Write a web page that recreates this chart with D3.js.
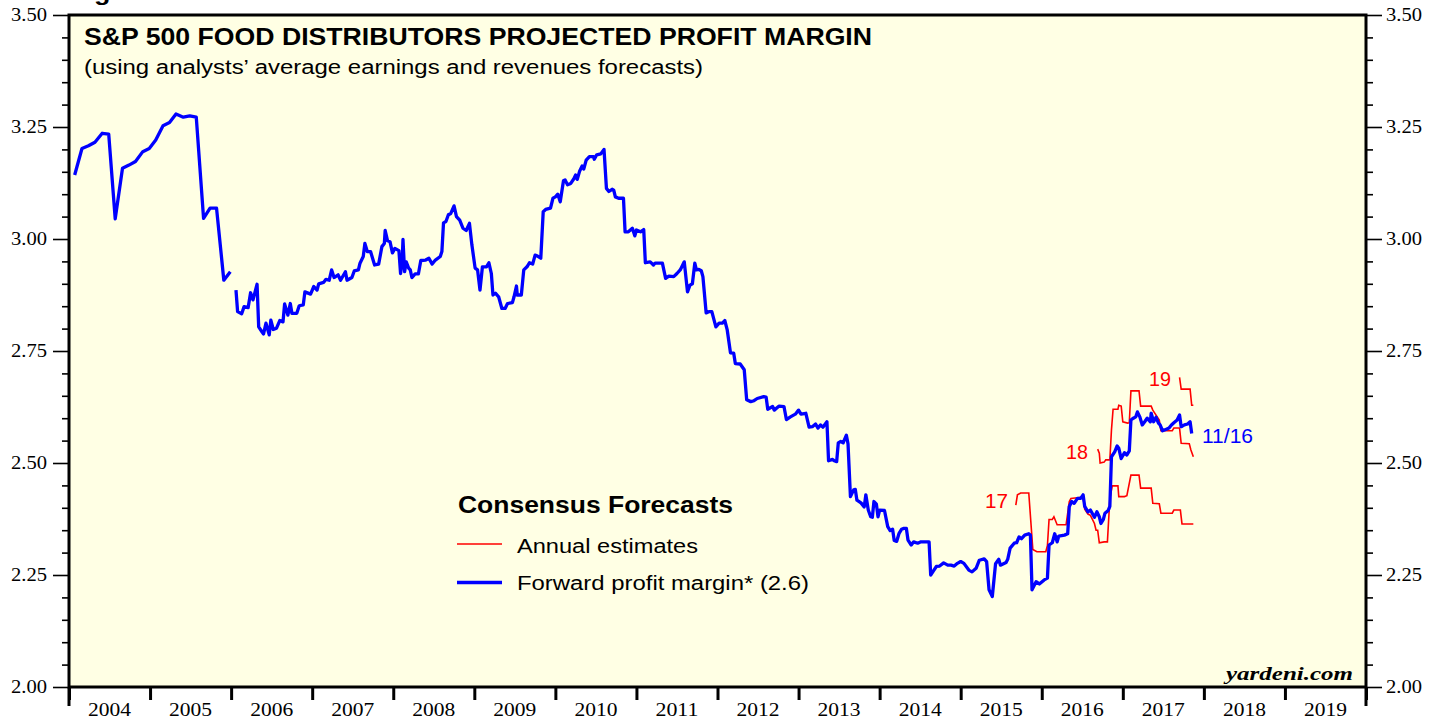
<!DOCTYPE html>
<html>
<head>
<meta charset="utf-8">
<script src="https://cdn.jsdelivr.net/npm/d3@7/dist/d3.min.js"></script>
<style>
  body { margin: 0; background: #fff; }
  svg { display: block; }
</style>
</head>
<body>
<svg id="chart" width="1446" height="719"></svg>
<script>
// tick values / labels
const yearLabels = ['2004', '2005', '2006', '2007', '2008', '2009', '2010', '2011', '2012', '2013', '2014', '2015', '2016', '2017', '2018', '2019']
const yMajor = [2.00, 2.25, 2.50, 2.75, 3.00, 3.25, 3.50]
const yMinor = [2.05, 2.10, 2.15, 2.20, 2.30, 2.35, 2.40, 2.45, 2.55, 2.60, 2.65, 2.70, 2.80, 2.85, 2.90, 2.95, 3.05, 3.10, 3.15, 3.20, 3.30, 3.35, 3.40, 3.45]

// forward profit margin, monthly 2004-2005 [decimal year, %]
const fwdMonthly = [
  [2004.07, 3.143], [2004.16, 3.202], [2004.24, 3.208], [2004.32, 3.216], [2004.41, 3.236], [2004.49, 3.234],
  [2004.57, 3.045], [2004.66, 3.158], [2004.74, 3.165], [2004.82, 3.173], [2004.91, 3.195], [2004.99, 3.202],
  [2005.07, 3.221], [2005.16, 3.253], [2005.24, 3.260], [2005.32, 3.279], [2005.41, 3.272], [2005.49, 3.275],
  [2005.57, 3.272], [2005.66, 3.046], [2005.74, 3.069], [2005.82, 3.069], [2005.91, 2.908], [2005.99, 2.927]
]

// forward profit margin, weekly 2006-2017
const fwdWeekly = [
  [2006.06, 2.886], [2006.08, 2.838], [2006.13, 2.833], [2006.16, 2.849], [2006.21, 2.847], [2006.24, 2.880],
  [2006.27, 2.864], [2006.32, 2.899], [2006.34, 2.804], [2006.38, 2.793], [2006.40, 2.788], [2006.43, 2.812],
  [2006.47, 2.786], [2006.49, 2.819], [2006.52, 2.798], [2006.56, 2.801], [2006.60, 2.818], [2006.64, 2.815],
  [2006.66, 2.855], [2006.70, 2.830], [2006.73, 2.856], [2006.75, 2.834], [2006.81, 2.834], [2006.84, 2.851],
  [2006.89, 2.853], [2006.91, 2.882], [2006.98, 2.877], [2007.02, 2.894], [2007.06, 2.886], [2007.08, 2.900],
  [2007.14, 2.903], [2007.17, 2.910], [2007.21, 2.908], [2007.24, 2.931], [2007.27, 2.914], [2007.32, 2.920],
  [2007.35, 2.908], [2007.41, 2.927], [2007.43, 2.908], [2007.49, 2.914], [2007.52, 2.929], [2007.57, 2.931],
  [2007.59, 2.946], [2007.63, 2.961], [2007.65, 2.990], [2007.68, 2.972], [2007.72, 2.972], [2007.77, 2.942],
  [2007.82, 2.944], [2007.86, 2.983], [2007.89, 2.990], [2007.90, 3.019], [2007.93, 2.996], [2007.96, 2.994],
  [2007.99, 2.969], [2008.02, 2.979], [2008.07, 2.974], [2008.09, 2.923], [2008.11, 2.949], [2008.12, 2.999],
  [2008.14, 2.927], [2008.16, 2.949], [2008.19, 2.935], [2008.21, 2.931], [2008.23, 2.914], [2008.27, 2.922],
  [2008.31, 2.922], [2008.34, 2.952], [2008.40, 2.953], [2008.44, 2.957], [2008.48, 2.944], [2008.52, 2.953],
  [2008.58, 2.961], [2008.60, 2.972], [2008.62, 3.036], [2008.65, 3.039], [2008.68, 3.054], [2008.71, 3.057],
  [2008.75, 3.074], [2008.78, 3.050], [2008.82, 3.042], [2008.86, 3.024], [2008.90, 3.019], [2008.94, 3.035],
  [2008.97, 2.987], [2009.01, 2.935], [2009.04, 2.931], [2009.07, 2.886], [2009.10, 2.938], [2009.15, 2.938],
  [2009.18, 2.947], [2009.21, 2.923], [2009.23, 2.875], [2009.26, 2.879], [2009.30, 2.871], [2009.34, 2.845],
  [2009.38, 2.845], [2009.41, 2.856], [2009.47, 2.858], [2009.49, 2.871], [2009.52, 2.895], [2009.53, 2.875],
  [2009.58, 2.875], [2009.61, 2.931], [2009.65, 2.938], [2009.68, 2.947], [2009.72, 2.944], [2009.75, 2.964],
  [2009.78, 2.962], [2009.82, 2.957], [2009.85, 3.061], [2009.88, 3.066], [2009.94, 3.069], [2009.97, 3.091],
  [2010.00, 3.094], [2010.03, 3.100], [2010.06, 3.083], [2010.10, 3.130], [2010.12, 3.132], [2010.15, 3.121],
  [2010.19, 3.124], [2010.23, 3.135], [2010.25, 3.143], [2010.27, 3.133], [2010.30, 3.152], [2010.33, 3.163],
  [2010.35, 3.156], [2010.38, 3.176], [2010.42, 3.184], [2010.47, 3.184], [2010.48, 3.178], [2010.51, 3.188],
  [2010.56, 3.190], [2010.60, 3.200], [2010.63, 3.113], [2010.66, 3.106], [2010.70, 3.111], [2010.72, 3.109],
  [2010.74, 3.094], [2010.78, 3.091], [2010.84, 3.091], [2010.86, 3.016], [2010.90, 3.016], [2010.95, 3.024],
  [2010.98, 3.007], [2011.00, 3.020], [2011.05, 3.016], [2011.09, 3.021], [2011.11, 2.947], [2011.17, 2.949],
  [2011.21, 2.942], [2011.23, 2.946], [2011.32, 2.946], [2011.36, 2.912], [2011.40, 2.917], [2011.46, 2.916],
  [2011.50, 2.923], [2011.54, 2.931], [2011.56, 2.938], [2011.59, 2.949], [2011.63, 2.882], [2011.66, 2.897],
  [2011.69, 2.900], [2011.72, 2.946], [2011.74, 2.931], [2011.77, 2.932], [2011.80, 2.929], [2011.82, 2.916],
  [2011.86, 2.835], [2011.90, 2.838], [2011.93, 2.838], [2011.98, 2.804], [2012.02, 2.812], [2012.06, 2.812],
  [2012.09, 2.818], [2012.12, 2.797], [2012.16, 2.746], [2012.20, 2.745], [2012.22, 2.722], [2012.28, 2.721],
  [2012.33, 2.708], [2012.36, 2.641], [2012.41, 2.637], [2012.45, 2.639], [2012.49, 2.644], [2012.57, 2.648],
  [2012.60, 2.647], [2012.62, 2.620], [2012.68, 2.626], [2012.70, 2.618], [2012.76, 2.627], [2012.82, 2.626],
  [2012.85, 2.597], [2012.90, 2.603], [2012.96, 2.609], [2013.00, 2.618], [2013.03, 2.609], [2013.09, 2.611],
  [2013.13, 2.580], [2013.17, 2.581], [2013.21, 2.587], [2013.24, 2.578], [2013.27, 2.585], [2013.30, 2.580],
  [2013.35, 2.592], [2013.37, 2.505], [2013.42, 2.508], [2013.44, 2.505], [2013.47, 2.503], [2013.49, 2.545],
  [2013.52, 2.548], [2013.55, 2.545], [2013.59, 2.562], [2013.61, 2.543], [2013.64, 2.425], [2013.68, 2.440],
  [2013.70, 2.441], [2013.72, 2.417], [2013.77, 2.411], [2013.81, 2.402], [2013.83, 2.429], [2013.86, 2.395],
  [2013.89, 2.380], [2013.91, 2.379], [2013.93, 2.414], [2013.96, 2.408], [2013.98, 2.380], [2014.00, 2.395],
  [2014.06, 2.394], [2014.10, 2.358], [2014.13, 2.349], [2014.16, 2.352], [2014.18, 2.327], [2014.21, 2.325],
  [2014.24, 2.343], [2014.27, 2.352], [2014.30, 2.354], [2014.33, 2.354], [2014.35, 2.328], [2014.39, 2.317],
  [2014.42, 2.324], [2014.47, 2.321], [2014.51, 2.324], [2014.61, 2.324], [2014.63, 2.250], [2014.67, 2.261],
  [2014.70, 2.269], [2014.74, 2.270], [2014.79, 2.277], [2014.84, 2.272], [2014.88, 2.272], [2014.92, 2.270],
  [2014.96, 2.276], [2015.00, 2.280], [2015.04, 2.276], [2015.10, 2.261], [2015.14, 2.257], [2015.19, 2.265],
  [2015.23, 2.283], [2015.29, 2.286], [2015.32, 2.280], [2015.35, 2.217], [2015.39, 2.202], [2015.43, 2.275],
  [2015.47, 2.285], [2015.49, 2.272], [2015.56, 2.278], [2015.58, 2.285], [2015.61, 2.310], [2015.66, 2.321],
  [2015.69, 2.322], [2015.72, 2.335], [2015.75, 2.331], [2015.79, 2.339], [2015.84, 2.342], [2015.86, 2.339],
  [2015.88, 2.217], [2015.93, 2.235], [2015.97, 2.230], [2016.03, 2.239], [2016.07, 2.243], [2016.09, 2.317],
  [2016.13, 2.322], [2016.16, 2.342], [2016.19, 2.324], [2016.21, 2.337], [2016.28, 2.339], [2016.32, 2.342],
  [2016.34, 2.403], [2016.37, 2.414], [2016.40, 2.410], [2016.44, 2.421], [2016.48, 2.421], [2016.51, 2.429],
  [2016.53, 2.403], [2016.57, 2.391], [2016.60, 2.395], [2016.65, 2.379], [2016.68, 2.391], [2016.71, 2.380],
  [2016.73, 2.365], [2016.76, 2.374], [2016.78, 2.388], [2016.82, 2.394], [2016.84, 2.403], [2016.86, 2.514],
  [2016.90, 2.525], [2016.93, 2.538], [2016.95, 2.533], [2016.98, 2.510], [2017.02, 2.523], [2017.05, 2.518],
  [2017.08, 2.527], [2017.10, 2.596], [2017.13, 2.600], [2017.16, 2.603], [2017.18, 2.614], [2017.21, 2.603],
  [2017.24, 2.585], [2017.27, 2.592], [2017.30, 2.600], [2017.34, 2.592], [2017.35, 2.611], [2017.38, 2.592],
  [2017.41, 2.602], [2017.44, 2.589], [2017.46, 2.585], [2017.49, 2.572], [2017.53, 2.575], [2017.57, 2.578],
  [2017.60, 2.585], [2017.63, 2.590], [2017.67, 2.596], [2017.70, 2.607], [2017.72, 2.581], [2017.76, 2.585],
  [2017.80, 2.587], [2017.83, 2.592], [2017.85, 2.566]
]

// annual consensus estimates
const est2017 = [
  [2015.68, 2.406], [2015.70, 2.429], [2015.74, 2.433], [2015.84, 2.433], [2015.89, 2.307], [2015.94, 2.302],
  [2016.05, 2.302], [2016.07, 2.316], [2016.09, 2.374], [2016.13, 2.374], [2016.15, 2.380], [2016.19, 2.362],
  [2016.30, 2.362], [2016.34, 2.414], [2016.36, 2.421], [2016.51, 2.424], [2016.53, 2.397], [2016.57, 2.386],
  [2016.60, 2.383], [2016.65, 2.365], [2016.67, 2.350], [2016.69, 2.350], [2016.71, 2.322], [2016.77, 2.324],
  [2016.81, 2.324], [2016.84, 2.420], [2016.87, 2.449], [2016.94, 2.449], [2016.95, 2.425], [2017.02, 2.425],
  [2017.05, 2.427], [2017.10, 2.473], [2017.20, 2.473], [2017.22, 2.444], [2017.35, 2.444], [2017.37, 2.410],
  [2017.45, 2.409], [2017.47, 2.388], [2017.61, 2.388], [2017.63, 2.395], [2017.71, 2.395], [2017.73, 2.364],
  [2017.87, 2.364]
]
const est2018 = [
  [2016.69, 2.531], [2016.71, 2.522], [2016.72, 2.500], [2016.77, 2.502], [2016.79, 2.507], [2016.84, 2.507],
  [2016.86, 2.574], [2016.88, 2.620], [2016.94, 2.620], [2016.95, 2.629], [2016.98, 2.627], [2017.00, 2.592],
  [2017.06, 2.589], [2017.08, 2.590], [2017.10, 2.661], [2017.20, 2.661], [2017.22, 2.627], [2017.35, 2.627],
  [2017.37, 2.618], [2017.45, 2.596], [2017.47, 2.572], [2017.61, 2.572], [2017.63, 2.578], [2017.70, 2.578],
  [2017.72, 2.544], [2017.82, 2.543], [2017.84, 2.529], [2017.87, 2.514]
]
const est2019 = [
  [2017.70, 2.691], [2017.72, 2.665], [2017.83, 2.665], [2017.85, 2.629], [2017.87, 2.629]
]

const sans = 'Liberation Sans, Arial, Helvetica, sans-serif'
const serif = 'Liberation Serif, Times New Roman, serif'

const svg = d3.select('#chart')
const x = d3.scaleLinear().domain([2004, 2020]).range([69, 1366])
const y = d3.scaleLinear().domain([2, 3.5]).range([687, 15])

// page header, cut off at the top like the source page
svg.append('text')
  .attr('x', 70).attr('y', 0)
  .attr('font-family', sans).attr('font-weight', 'bold').attr('font-size', 22)
  .attr('textLength', 112).attr('lengthAdjust', 'spacingAndGlyphs')
  .text('Figure 6.')

// plot background
svg.append('rect')
  .attr('x', x(2004)).attr('y', y(3.5))
  .attr('width', x(2020) - x(2004)).attr('height', y(2) - y(3.5))
  .attr('fill', '#ffffe4')

function addText(g, opts) {
  let t = g.append('text')
    .attr('x', opts.x).attr('y', opts.y)
    .attr('font-family', opts.family || sans)
    .attr('font-size', opts.size)
    .attr('font-weight', opts.weight || 'normal')
    .attr('font-style', opts.style || 'normal')
    .attr('fill', opts.fill || '#000')
    .attr('text-anchor', opts.anchor || 'start')
    .text(opts.text)
  if (opts.width) t.attr('textLength', opts.width).attr('lengthAdjust', 'spacingAndGlyphs')
  return t
}

// titles
addText(svg, { x: 84, y: 45, size: 23, weight: 'bold', width: 788, text: 'S&P 500 FOOD DISTRIBUTORS PROJECTED PROFIT MARGIN' })
addText(svg, { x: 84, y: 74, size: 20, width: 619, text: '(using analysts\u2019 average earnings and revenues forecasts)' })

// series
let line = d3.line()
  .x(d => x(d[0]))
  .y(d => y(d[1]))

let plot = svg.append('g')

;[est2017, est2018, est2019].forEach(series => {
  plot.append('path')
    .datum(series)
    .attr('d', line)
    .attr('fill', 'none')
    .attr('stroke', '#ff0000')
    .attr('stroke-width', 1.6)
})

;[fwdMonthly, fwdWeekly].forEach(series => {
  plot.append('path')
    .datum(series)
    .attr('d', line)
    .attr('fill', 'none')
    .attr('stroke', '#0000ff')
    .attr('stroke-width', 3.3)
    .attr('stroke-linejoin', 'round')
})

// series labels
addText(svg, { x: 1008, y: 508, size: 20, fill: '#ff0000', anchor: 'end', width: 23, text: '17' })
addText(svg, { x: 1088, y: 459, size: 20, fill: '#ff0000', anchor: 'end', width: 22, text: '18' })
addText(svg, { x: 1171, y: 386, size: 20, fill: '#ff0000', anchor: 'end', width: 22, text: '19' })
addText(svg, { x: 1202, y: 443, size: 20, fill: '#0000ff', width: 51, text: '11/16' })

// legend
let legend = svg.append('g')
addText(legend, { x: 458, y: 513, size: 23, weight: 'bold', width: 275, text: 'Consensus Forecasts' })
legend.append('line')
  .attr('x1', 457).attr('x2', 502).attr('y1', 544).attr('y2', 544)
  .attr('stroke', '#ff0000').attr('stroke-width', 1.6)
addText(legend, { x: 517, y: 553, size: 20, width: 181, text: 'Annual estimates' })
legend.append('line')
  .attr('x1', 457).attr('x2', 502).attr('y1', 582.5).attr('y2', 582.5)
  .attr('stroke', '#0000ff').attr('stroke-width', 3.3)
addText(legend, { x: 517, y: 590, size: 20, width: 292, text: 'Forward profit margin* (2.6)' })

addText(svg, { x: 1353, y: 680, size: 19, family: serif, weight: 'bold', style: 'italic', anchor: 'end', width: 127, text: 'yardeni.com' })

// axes
function styleAxis(g) {
  g.select('.domain').remove()
  g.selectAll('.tick line').attr('stroke', '#000').attr('stroke-width', 1.6)
  g.selectAll('.tick text')
    .attr('font-family', serif)
    .attr('font-size', 18)
    .attr('fill', '#000')
    .attr('textLength', 36)
    .attr('lengthAdjust', 'spacingAndGlyphs')
}

svg.append('g').attr('transform', `translate(${x(2004)},0)`)
  .call(d3.axisLeft(y).tickValues(yMinor).tickSize(7).tickFormat(''))
  .call(styleAxis)
svg.append('g').attr('transform', `translate(${x(2004)},0)`)
  .call(d3.axisLeft(y).tickValues(yMajor).tickSize(16).tickPadding(6).tickFormat(d3.format('.2f')))
  .call(styleAxis)
svg.append('g').attr('transform', `translate(${x(2020)},0)`)
  .call(d3.axisRight(y).tickValues(yMinor).tickSize(7).tickFormat(''))
  .call(styleAxis)
svg.append('g').attr('transform', `translate(${x(2020)},0)`)
  .call(d3.axisRight(y).tickValues(yMajor).tickSize(16).tickPadding(4).tickFormat(d3.format('.2f')))
  .call(styleAxis)

svg.append('g').attr('transform', `translate(0,${y(2)})`)
  .call(d3.axisBottom(x).tickValues(d3.range(2004, 2021)).tickSize(13).tickFormat(''))
  .call(styleAxis)
  .selectAll('.tick line').attr('stroke-width', 3)

svg.append('g').selectAll('text')
  .data(yearLabels)
  .enter()
  .append('text')
  .attr('x', d => x(+d + 0.5))
  .attr('y', 716)
  .attr('text-anchor', 'middle')
  .attr('font-family', serif)
  .attr('font-size', 19)
  .attr('textLength', 43)
  .attr('lengthAdjust', 'spacingAndGlyphs')
  .text(d => d)

// frame
svg.append('rect')
  .attr('x', x(2004)).attr('y', y(3.5))
  .attr('width', x(2020) - x(2004)).attr('height', y(2) - y(3.5))
  .attr('fill', 'none').attr('stroke', '#000').attr('stroke-width', 3)
svg.append('line')
  .attr('x1', x(2004)).attr('x2', x(2004)).attr('y1', y(2)).attr('y2', y(2) + 19)
  .attr('stroke', '#000').attr('stroke-width', 3)
svg.append('line')
  .attr('x1', x(2020)).attr('x2', x(2020)).attr('y1', y(2)).attr('y2', y(2) + 19)
  .attr('stroke', '#000').attr('stroke-width', 3)
</script>
</body>
</html>
